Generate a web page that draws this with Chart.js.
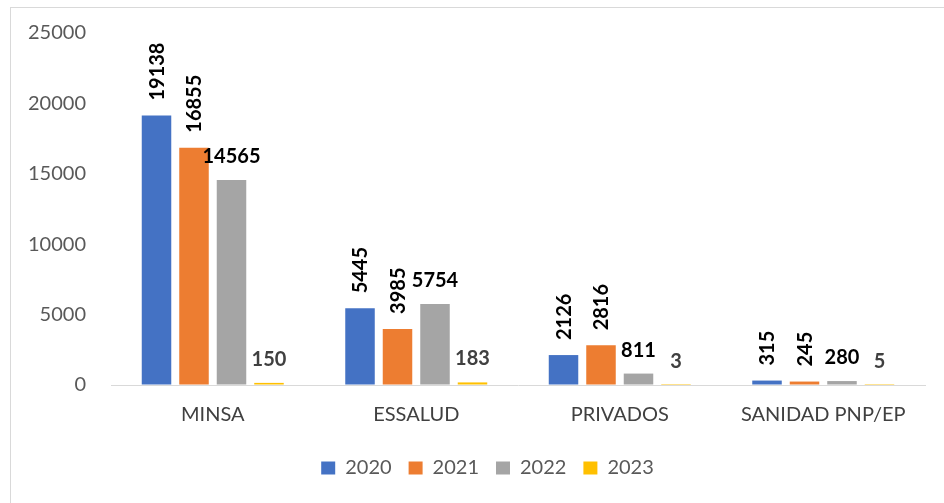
<!DOCTYPE html>
<html><head><meta charset="utf-8">
<script src="https://cdn.jsdelivr.net/npm/chart.js@4"></script>
<style>
html,body{margin:0;padding:0;background:#fff;overflow:hidden}
#frame{position:absolute;left:10px;top:7px;width:960px;height:520px;border:1px solid #d9d9d9;box-sizing:border-box}
#wrap{position:absolute;left:0;top:0;width:944px;height:503px}
</style></head><body>
<div id="frame"></div>
<div id="wrap"><canvas id="c" width="944" height="503"></canvas></div>
<script>
const categories = ['MINSA', 'ESSALUD', 'PRIVADOS', 'SANIDAD PNP/EP'];
const years = ['2020', '2021', '2022', '2023'];
const values2020 = [19138, 5445, 2126, 315];
const values2021 = [16855, 3985, 2816, 245];
const values2022 = [14565, 5754, 811, 280];
const values2023 = [150, 183, 3, 5];
const yTicks = [0, 5000, 10000, 15000, 20000, 25000];

const seriesValues = [values2020, values2021, values2022, values2023];
const colors = ['#4472C4', '#ED7D31', '#A5A5A5', '#FFC000'];

const labelPlugin = {
  id: 'barLabels',
  afterLayout(chart) {
    const lg = chart.legend;
    if (lg) { lg.left += 25; lg.right += 25; }
  },
  afterDatasetsDraw(chart) {
    const ctx = chart.ctx;
    chart.data.datasets.forEach((ds, di) => {
      const meta = chart.getDatasetMeta(di);
      meta.data.forEach((bar, i) => {
        const v = ds.data[i];
        ctx.save();
        ctx.font = 'bold 20px Lato';
        ctx.fillStyle = di === 3 ? '#404040' : '#000000';
        if (di < 2) {
          ctx.translate(bar.x, bar.y - 15);
          ctx.rotate(-Math.PI / 2);
          ctx.textAlign = 'left';
          ctx.textBaseline = 'middle';
          ctx.fillText(String(v), 0, 1);
        } else {
          ctx.textAlign = 'center';
          ctx.textBaseline = 'alphabetic';
          ctx.fillText(String(v), bar.x, bar.y - 17);
        }
        ctx.restore();
      });
    });
  }
};

function build() {
  new Chart(document.getElementById('c'), {
    type: 'bar',
    data: {
      labels: categories,
      datasets: years.map((y, i) => ({
        label: y,
        data: seriesValues[i],
        backgroundColor: colors[i],
        borderWidth: 0,
        categoryPercentage: 0.737,
        barPercentage: 0.787
      }))
    },
    options: {
      responsive: false,
      animation: false,
      devicePixelRatio: 1,
      layout: { padding: { left: 0, right: 19, top: 33, bottom: 15 } },
      plugins: {
        tooltip: { enabled: false },
        legend: {
          position: 'bottom',
          labels: {
            boxWidth: 14,
            boxHeight: 13,
            padding: 17,
            color: '#595959',
            font: { family: 'Lato', size: 20 }
          }
        }
      },
      scales: {
        x: {
          grid: { display: false, drawTicks: false },
          border: { display: true, color: '#d9d9d9', width: 1 },
          ticks: { color: '#404040', font: { family: 'Lato', size: 20 }, padding: 18, maxRotation: 0, autoSkip: false },
          afterFit(s) { s.height = 56; }
        },
        y: {
          min: 0,
          max: 25000,
          afterBuildTicks(s) { s.ticks = yTicks.map(v => ({ value: v })); },
          grid: { display: true, drawOnChartArea: false, drawTicks: true, tickLength: 20, color: 'rgba(0,0,0,0)' },
          border: { display: false },
          ticks: { color: '#595959', font: { family: 'Lato', size: 20 }, padding: 5, callback: v => String(v) },
          afterFit(s) { s.width = 111; }
        }
      }
    },
    plugins: [labelPlugin]
  });
}

Promise.all([
  document.fonts.load('20px Lato'),
  document.fonts.load('bold 20px Lato')
]).then(build, build);
</script>
</body></html>
